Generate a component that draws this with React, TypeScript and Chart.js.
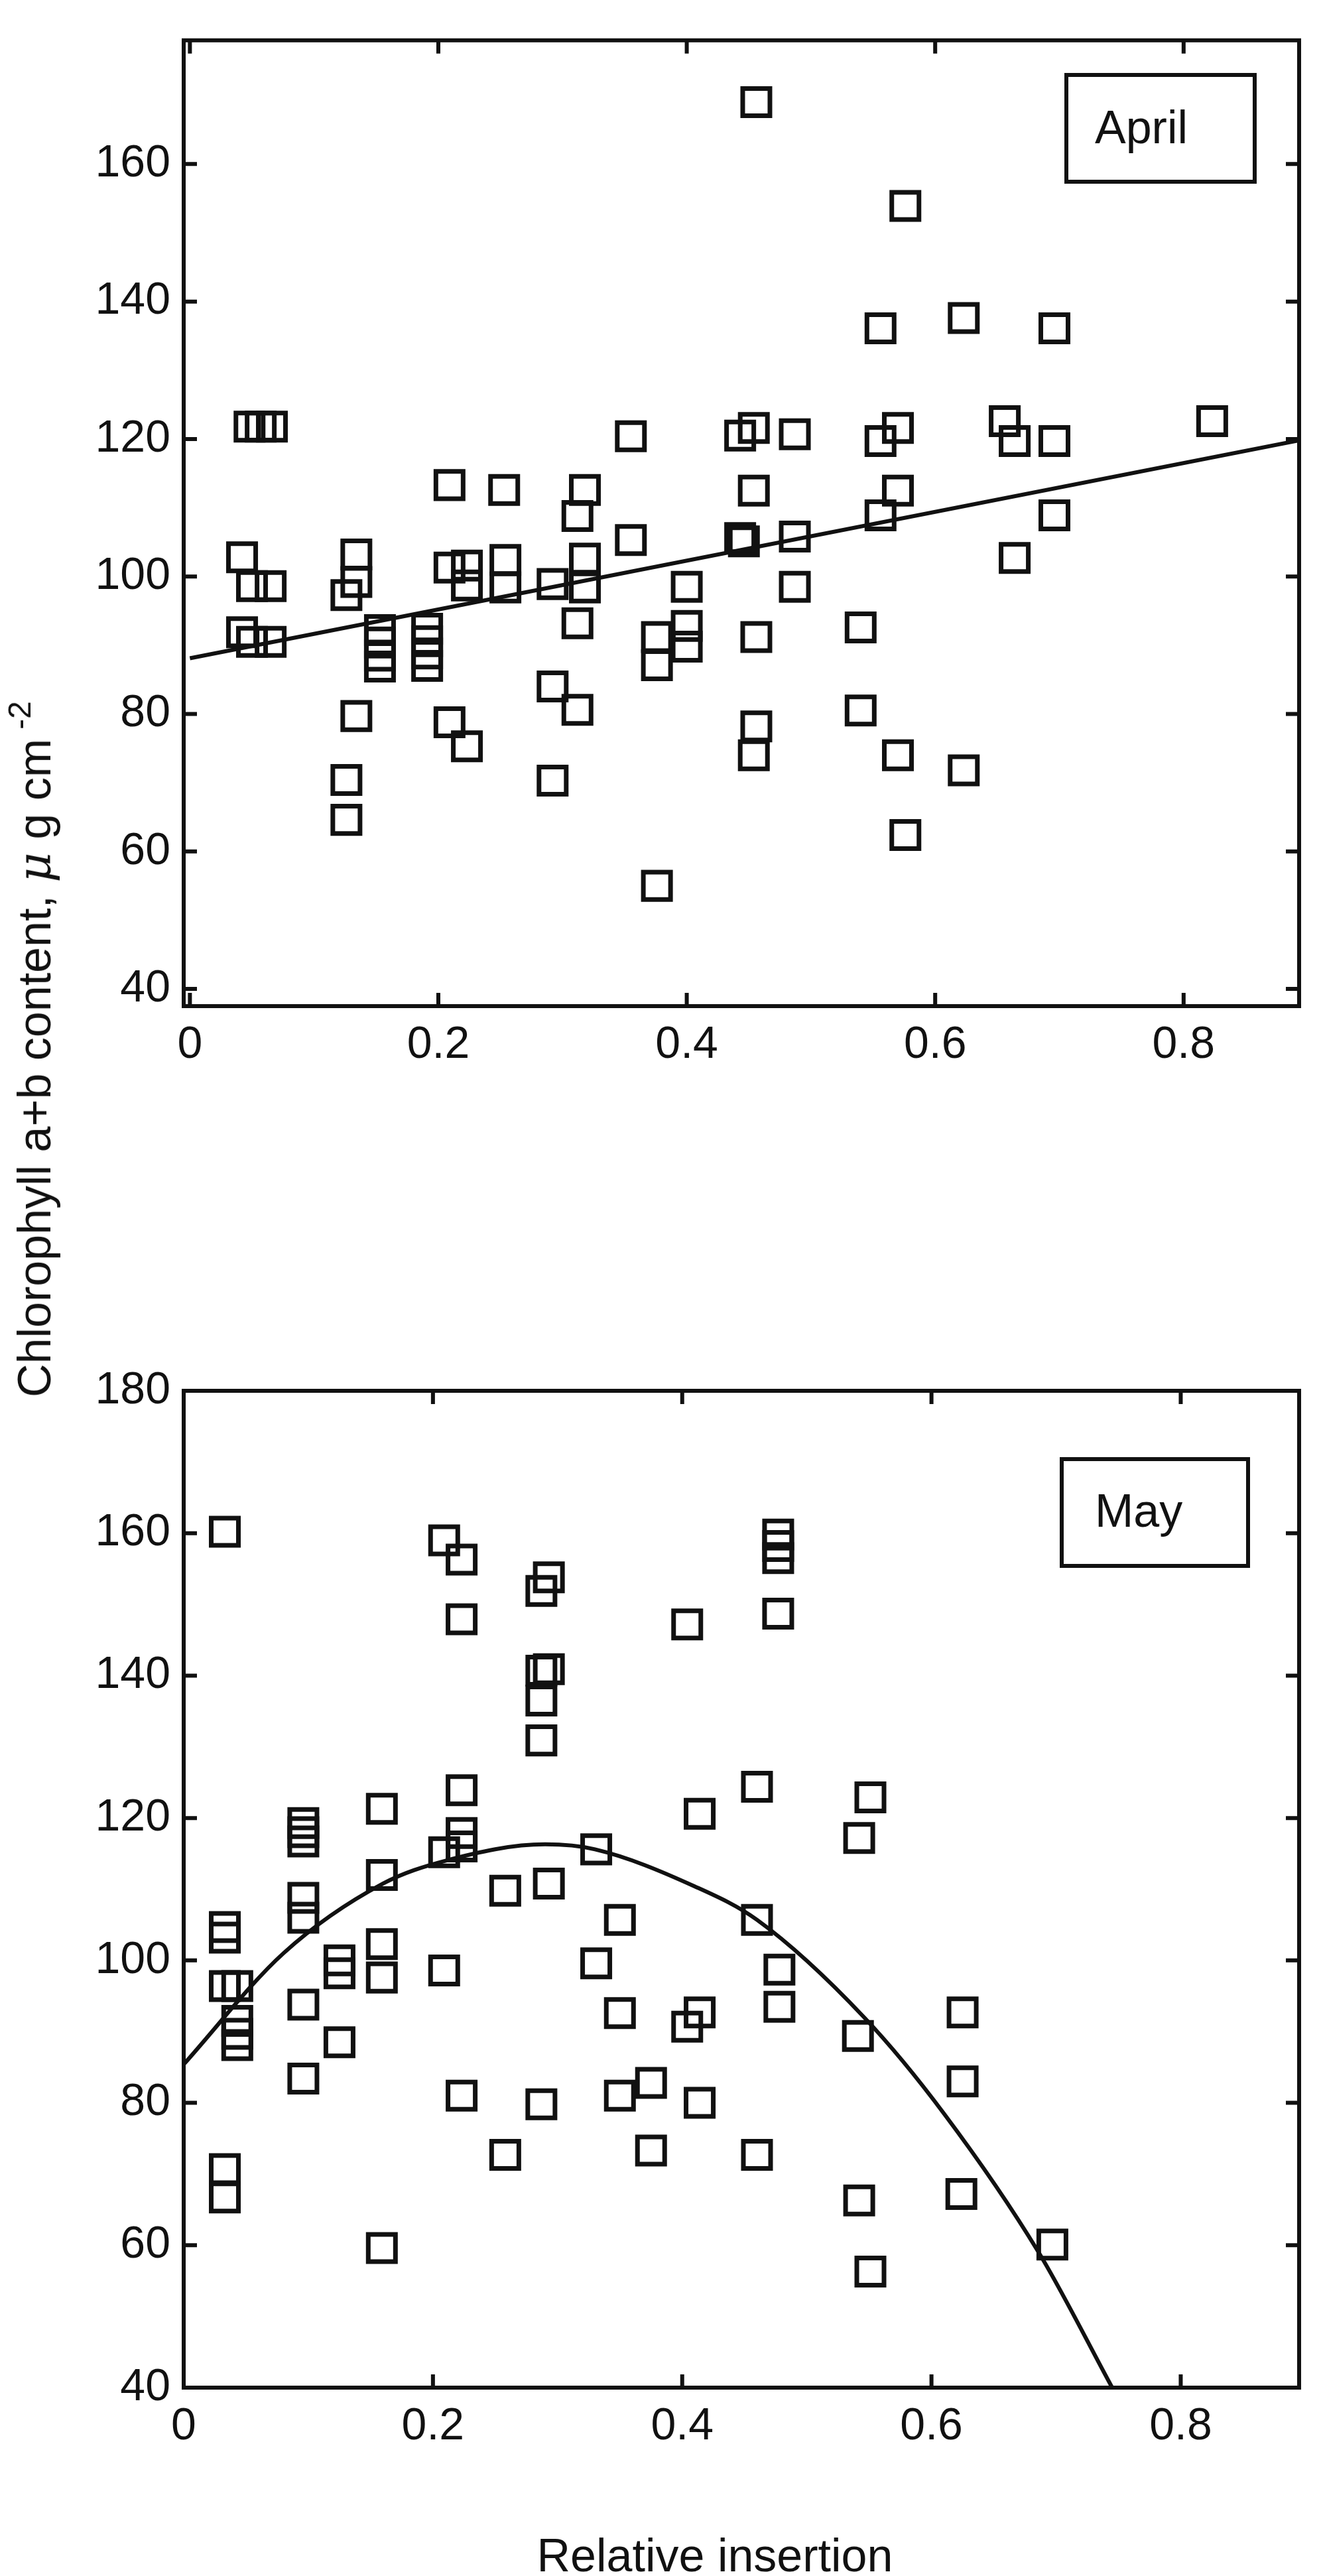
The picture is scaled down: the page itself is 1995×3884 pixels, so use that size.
import React, { useEffect, useRef } from 'react';
import { Chart, registerables } from 'chart.js';

Chart.register(...registerables);

const INK = '#111';
const FONT = '"Liberation Sans", Arial, sans-serif';

// x ticks shared by both panels
const xTicks = [0, 0.2, 0.4, 0.6, 0.8];
const xTickLabels = ['0', '0.2', '0.4', '0.6', '0.8'];

// April panel
const aprilYTicks = [40, 60, 80, 100, 120, 140, 160];
const aprilX = [
  0.048, 0.057, 0.066, 0.209, 0.253, 0.318, 0.312, 0.355, 0.355, 0.042,
  0.05, 0.065, 0.134, 0.134, 0.126, 0.209, 0.223, 0.223, 0.254, 0.254,
  0.292, 0.318, 0.318, 0.312, 0.4, 0.376, 0.376, 0.4, 0.4, 0.042,
  0.05, 0.065, 0.153, 0.153, 0.153, 0.153, 0.191, 0.191, 0.191, 0.191,
  0.134, 0.209, 0.223, 0.292, 0.312, 0.126, 0.126, 0.292, 0.376, 0.456,
  0.576, 0.556, 0.623, 0.696, 0.823, 0.656, 0.664, 0.696, 0.443, 0.454,
  0.487, 0.556, 0.57, 0.454, 0.57, 0.556, 0.696, 0.443, 0.446, 0.487,
  0.664, 0.487, 0.456, 0.54, 0.54, 0.456, 0.454, 0.57, 0.623, 0.576,
];
const aprilY = [
  121.8, 121.8, 121.8, 113.3, 112.6, 112.6, 108.8, 120.4, 105.3, 102.8,
  98.6, 98.6, 103.2, 99.2, 97.3, 101.3, 101.6, 98.7, 102.4, 98.4,
  98.9, 102.6, 98.4, 93.2, 98.5, 91.2, 87.1, 92.8, 89.8, 91.9,
  90.5, 90.5, 92.2, 90.4, 88.5, 86.9, 92.4, 90.6, 88.8, 87.0,
  79.7, 78.8, 75.3, 84.0, 80.6, 70.4, 64.6, 70.3, 55.0, 169.0,
  153.9, 136.1, 137.6, 136.1, 122.6, 122.6, 119.7, 119.7, 120.5, 121.6,
  120.7, 119.7, 121.6, 112.5, 112.5, 108.9, 108.9, 105.6, 105.1, 105.8,
  102.7, 98.5, 91.2, 92.6, 80.5, 78.2, 74.0, 74.0, 71.8, 62.4,
];
const aprilFitX = [0, 0.893];
const aprilFitY = [88.1, 119.8];

// May panel
const mayYTicks = [40, 60, 80, 100, 120, 140, 160, 180];
const mayX = [
  0.033, 0.209, 0.223, 0.223, 0.287, 0.293, 0.287, 0.293, 0.287, 0.287,
  0.404, 0.223, 0.159, 0.096, 0.096, 0.096, 0.096, 0.096, 0.096, 0.096,
  0.033, 0.033, 0.033, 0.043, 0.043, 0.043, 0.043, 0.033, 0.033, 0.125,
  0.125, 0.125, 0.159, 0.159, 0.159, 0.159, 0.209, 0.223, 0.223, 0.209,
  0.223, 0.258, 0.258, 0.293, 0.287, 0.331, 0.331, 0.35, 0.35, 0.35,
  0.375, 0.375, 0.404, 0.414, 0.414, 0.414, 0.477, 0.477, 0.477, 0.477,
  0.46, 0.551, 0.542, 0.46, 0.478, 0.478, 0.541, 0.46, 0.542, 0.551,
  0.625, 0.625, 0.624, 0.697,
];
const mayY = [
  160.2, 159.0, 156.3, 147.9, 151.9, 153.8, 140.7, 140.9, 136.5, 130.9,
  147.2, 123.9, 121.3, 119.3, 118.0, 116.7, 108.8, 106.0, 93.8, 83.4,
  104.7, 103.2, 96.4, 96.4, 91.5, 89.7, 88.1, 70.7, 66.7, 100.0,
  98.2, 88.5, 112.0, 102.3, 97.6, 59.6, 115.2, 117.9, 116.0, 98.6,
  81.0, 109.8, 72.7, 110.8, 79.8, 115.6, 99.6, 105.7, 92.6, 81.0,
  82.8, 73.3, 90.7, 92.7, 120.6, 80.0, 159.8, 158.2, 156.5, 148.7,
  124.4, 122.9, 117.2, 105.7, 98.7, 93.5, 89.4, 72.7, 66.3, 56.3,
  92.7, 83.0, 67.2, 60.1,
];
const mayFitX = [0, 0.08, 0.16, 0.21, 0.29, 0.33, 0.41, 0.46, 0.546, 0.61, 0.686, 0.745];
const mayFitY = [85.4, 101.0, 110.8, 114.0, 116.3, 115.6, 110.4, 105.7, 92.0, 78.5, 59.0, 40.0];

// box + inward ticks on all four sides, like a matlab axes
const framePlugin = {
  id: 'frame',
  afterDraw(chart: any) {
    const { ctx, chartArea: a, scales } = chart;
    const t = 20;
    ctx.save();
    ctx.strokeStyle = INK;
    ctx.lineWidth = 6;
    ctx.beginPath();
    scales.x.ticks.forEach((tk: any) => {
      const px = scales.x.getPixelForValue(tk.value);
      ctx.moveTo(px, a.bottom);
      ctx.lineTo(px, a.bottom - t);
      ctx.moveTo(px, a.top);
      ctx.lineTo(px, a.top + t);
    });
    scales.y.ticks.forEach((tk: any) => {
      const py = scales.y.getPixelForValue(tk.value);
      ctx.moveTo(a.left, py);
      ctx.lineTo(a.left + t, py);
      ctx.moveTo(a.right, py);
      ctx.lineTo(a.right - t, py);
    });
    ctx.stroke();
    ctx.strokeRect(a.left, a.top, a.right - a.left, a.bottom - a.top);
    ctx.restore();
  },
};

type PanelProps = {
  top: number;
  height: number;
  padTop: number;
  xAxisH: number;
  xMin: number;
  xMax: number;
  yMin: number;
  yMax: number;
  yTicks: number[];
  xs: number[];
  ys: number[];
  fitX: number[];
  fitY: number[];
  smooth: boolean;
};

const Panel: React.FC<PanelProps> = (p) => {
  const ref = useRef<HTMLCanvasElement | null>(null);

  useEffect(() => {
    if (!ref.current) return;
    const chart = new Chart(ref.current, {
      type: 'scatter',
      data: {
        datasets: [
          {
            data: p.xs.map((x, i) => ({ x, y: p.ys[i] })),
            pointStyle: 'rect',
            pointRadius: 29,
            pointBorderWidth: 7,
            pointBorderColor: INK,
            pointBackgroundColor: 'rgba(0,0,0,0)',
            showLine: false,
          },
          {
            data: p.fitX.map((x, i) => ({ x, y: p.fitY[i] })),
            showLine: true,
            pointRadius: 0,
            borderColor: INK,
            borderWidth: 6,
            fill: false,
            cubicInterpolationMode: p.smooth ? 'monotone' : 'default',
          } as any,
        ],
      },
      options: {
        animation: false,
        responsive: false,
        devicePixelRatio: 1,
        layout: { padding: { top: p.padTop, right: 15, left: 0, bottom: 0 } },
        plugins: { legend: { display: false }, tooltip: { enabled: false } },
        scales: {
          x: {
            type: 'linear',
            min: p.xMin,
            max: p.xMax,
            afterFit: (s: any) => {
              s.height = p.xAxisH;
            },
            afterBuildTicks: (s: any) => {
              s.ticks = xTicks.map((value) => ({ value }));
            },
            ticks: {
              padding: 18,
              autoSkip: false,
              maxRotation: 0,
              color: INK,
              font: { family: FONT, size: 68 },
              callback: (v: any) => xTickLabels[xTicks.indexOf(Number(v))] ?? '',
            },
            grid: { display: false, drawTicks: false },
            border: { display: false },
          },
          y: {
            type: 'linear',
            min: p.yMin,
            max: p.yMax,
            afterFit: (s: any) => {
              s.width = 277;
            },
            afterBuildTicks: (s: any) => {
              s.ticks = p.yTicks.map((value) => ({ value }));
            },
            ticks: {
              padding: 20,
              color: INK,
              font: { family: FONT, size: 68 },
              callback: (v: any) => String(v),
            },
            grid: { display: false, drawTicks: false },
            border: { display: false },
          },
        },
      },
      plugins: [framePlugin],
    });
    return () => {
      chart.destroy();
    };
  }, []);

  return (
    <canvas
      ref={ref}
      width={1995}
      height={p.height}
      style={{ position: 'absolute', left: 0, top: p.top, width: 1995, height: p.height }}
    />
  );
};

const boxStyle: React.CSSProperties = {
  position: 'absolute',
  border: `6px solid ${INK}`,
  boxSizing: 'border-box',
};

const textStyle: React.CSSProperties = {
  position: 'absolute',
  fontSize: 70,
  lineHeight: '70px',
  whiteSpace: 'nowrap',
  color: INK,
};

export default function App() {
  return (
    <div
      style={{
        position: 'absolute',
        left: 0,
        top: 0,
        width: 1995,
        height: 3884,
        background: '#fff',
        fontFamily: FONT,
        overflow: 'hidden',
      }}
    >
      <Panel
        top={0}
        height={1700}
        padTop={10}
        xAxisH={183}
        xMin={-0.005}
        xMax={0.893}
        yMin={37.5}
        yMax={178}
        yTicks={aprilYTicks}
        xs={aprilX}
        ys={aprilY}
        fitX={aprilFitX}
        fitY={aprilFitY}
        smooth={false}
      />
      <Panel
        top={1900}
        height={1850}
        padTop={197}
        xAxisH={150}
        xMin={0}
        xMax={0.895}
        yMin={40}
        yMax={180}
        yTicks={mayYTicks}
        xs={mayX}
        ys={mayY}
        fitX={mayFitX}
        fitY={mayFitY}
        smooth={true}
      />

      <div style={{ ...boxStyle, left: 1605, top: 110, width: 290, height: 167 }} />
      <div style={{ ...textStyle, left: 1651, top: 157 }}>April</div>
      <div style={{ ...boxStyle, left: 1598, top: 2197, width: 287, height: 167 }} />
      <div style={{ ...textStyle, left: 1651, top: 2243 }}>May</div>

      <div
        style={{
          ...textStyle,
          left: 56,
          top: 1582,
          transform: 'translate(-50%, -50%) rotate(-90deg)',
        }}
      >
        Chlorophyll a+b content,{' '}
        <span style={{ fontStyle: 'italic', fontFamily: '"DejaVu Serif", serif' }}>μ</span> g cm
        <span style={{ fontSize: 48, position: 'relative', top: -30, marginLeft: 14 }}>-2</span>
      </div>

      <div style={{ ...textStyle, left: 1078, top: 3818, transform: 'translateX(-50%)' }}>
        Relative insertion
      </div>
    </div>
  );
}
